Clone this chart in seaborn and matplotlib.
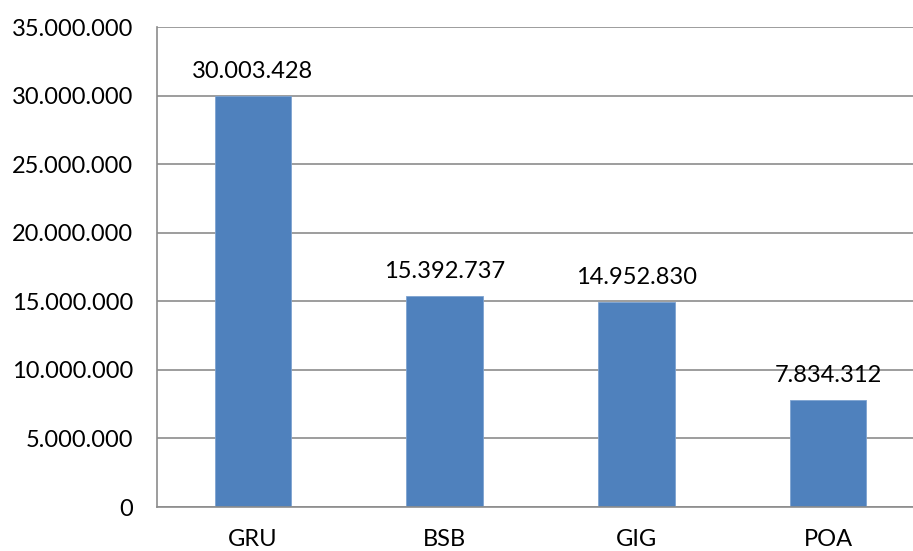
import matplotlib
matplotlib.use("Agg")
import matplotlib.pyplot as plt
import seaborn as sns
import pandas as pd
from matplotlib.ticker import FuncFormatter, FixedLocator

categories = ["GRU", "BSB", "GIG", "POA"]
values = [30003428, 15392737, 14952830, 7834312]
yticks = [0, 5000000, 10000000, 15000000, 20000000, 25000000, 30000000, 35000000]

def fmt(v):
    return f"{int(round(v)):,}".replace(",", ".")

sns.set_style("white")
plt.rcParams["font.family"] = ["Lato", "DejaVu Sans"]

df = pd.DataFrame({"cat": categories, "val": values})

fig = plt.figure(figsize=(9.13, 5.51), dpi=100)
ax = fig.add_axes([157/913, 44/551, 767/913, 480/551])

sns.barplot(data=df, x="cat", y="val", ax=ax, color="#4F81BD", width=0.4,
            saturation=1, edgecolor="#7EA3D0", linewidth=0.6)

ax.set_ylim(0, 35000000)
ax.set_xlim(-0.5, 3.5)
ax.set_yticks(yticks)
ax.yaxis.set_major_formatter(FuncFormatter(lambda v, p: fmt(v)))
ax.grid(axis="y", color="#8c8c8c", linewidth=1.2)
ax.set_axisbelow(True)
ax.set_xlabel("")
ax.set_ylabel("")

for s in ["top", "right"]:
    ax.spines[s].set_visible(False)
for s in ["left", "bottom"]:
    ax.spines[s].set_color("#8c8c8c")
    ax.spines[s].set_linewidth(1.2)

ax.tick_params(axis="y", which="major", length=6, width=1.2, color="#8c8c8c",
               direction="out", pad=11, labelsize=17, labelcolor="black")
ax.tick_params(axis="x", which="major", length=0, pad=16, labelsize=17, labelcolor="black")
ax.xaxis.set_minor_locator(FixedLocator([-0.5, 0.5, 1.5, 2.5, 3.5]))
ax.tick_params(axis="x", which="minor", length=6, width=1.2, color="#8c8c8c", direction="out")

for i, v in enumerate(values):
    ax.annotate(fmt(v), (i, v), xytext=(0, 10), textcoords="offset points",
                ha="center", va="bottom", fontsize=17, color="black")

fig.savefig("out.png", dpi=100)
